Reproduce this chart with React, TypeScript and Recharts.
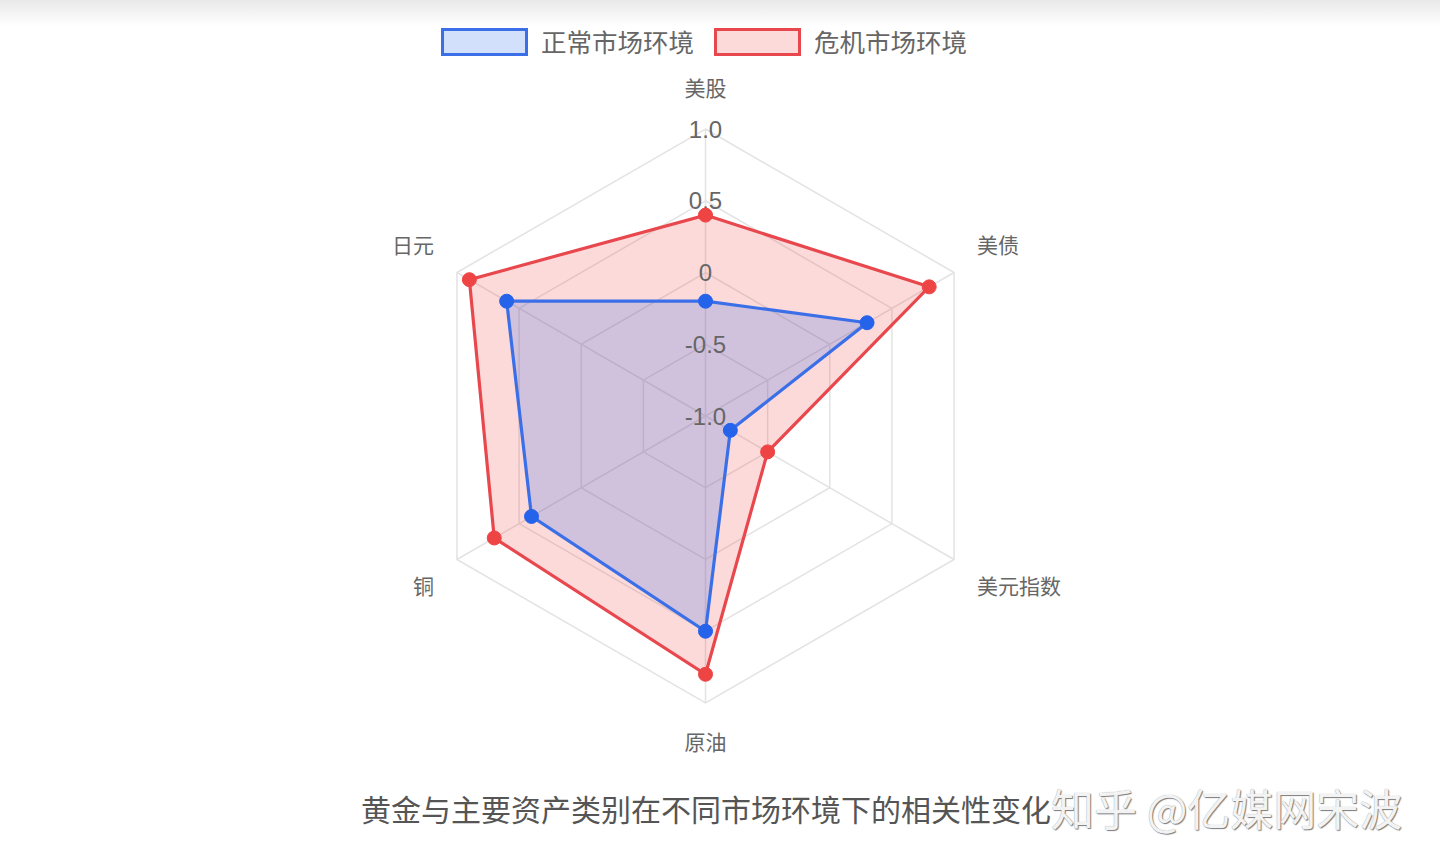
import React from 'react';
import { RadarChart, Radar, PolarGrid, PolarAngleAxis, PolarRadiusAxis } from 'recharts';

const categories = ['美股', '美债', '美元指数', '原油', '铜', '日元'];
const normalValues = [-0.2, 0.3, -0.8, 0.5, 0.4, 0.6];
const crisisValues = [0.4, 0.8, -0.5, 0.8, 0.7, 0.9];
const radiusTicks = [-1, -0.5, 0, 0.5, 1];
const radiusTickLabels = ['-1.0', '-0.5', '0', '0.5', '1.0'];
const seriesNames = ['正常市场环境', '危机市场环境'];
const titleText = '黄金与主要资产类别在不同市场环境下的相关性变化';
const watermarkText = '知乎 @亿媒网宋波';

const data = categories.map((c, i) => ({
  asset: c,
  [seriesNames[0]]: normalValues[i],
  [seriesNames[1]]: crisisValues[i],
}));

const CX = 705.5;
const CY = 416;
const R = 287;
const CJK = '"Noto Sans CJK SC", "Noto Sans", sans-serif';
const LATIN = '"Liberation Sans", Arial, "Noto Sans CJK SC", sans-serif';

const BLUE_LINE = '#3b6fe8';
const BLUE_DOT = '#2563eb';
const BLUE_FILL = 'rgba(37,99,235,0.2)';
const RED_LINE = '#e8484d';
const RED_DOT = '#ef4444';
const RED_FILL = 'rgba(239,68,68,0.2)';

const AngleTick = (props: any) => {
  const { payload } = props;
  const ang = (payload.coordinate * Math.PI) / 180;
  const cos = Math.cos(ang);
  const sin = Math.sin(ang);
  const vx = CX + R * cos;
  const vy = CY - R * sin;
  let x = vx;
  let y = vy;
  let anchor: 'start' | 'middle' | 'end' = 'middle';
  if (Math.abs(cos) < 0.01) {
    y = vy - Math.sign(sin) * 40;
  } else {
    anchor = cos > 0 ? 'start' : 'end';
    x = vx + Math.sign(cos) * 23;
    y = vy - Math.sign(sin) * 27;
  }
  return (
    <text x={x} y={y - 2} textAnchor={anchor} dominantBaseline="central" fill="#666" fontSize={21} fontFamily={CJK}>
      {payload.value}
    </text>
  );
};

const RadiusTick = (props: any) => {
  const { y, payload } = props;
  const idx = radiusTicks.indexOf(payload.value);
  const label = idx >= 0 ? radiusTickLabels[idx] : String(payload.value);
  return (
    <text x={CX} y={y} textAnchor="middle" dominantBaseline="central" fill="#666" fontSize={24} fontFamily={LATIN}>
      {label}
    </text>
  );
};

const LegendItem = ({ left, line, fill, label }: any) => (
  <div style={{ position: 'absolute', left, top: 28, height: 28, display: 'flex', alignItems: 'center' }}>
    <div style={{ width: 81, height: 22, border: `3px solid ${line}`, background: fill }} />
    <span style={{ marginLeft: 13, fontSize: 25.5, color: '#666', fontFamily: CJK, lineHeight: '28px', position: 'relative', top: -1 }}>{label}</span>
  </div>
);

export default function App() {
  return (
    <div style={{ position: 'absolute', left: 0, top: 0, width: 1440, height: 868, background: '#fff', overflow: 'hidden' }}>
      <div style={{ position: 'absolute', left: 0, top: 0, width: 1440, height: 26, background: 'linear-gradient(#e9e9e9, #ffffff)' }} />
      <div style={{ position: 'absolute', left: 0, top: 0 }}>
        <RadarChart width={1440} height={868} data={data} cx={CX} cy={CY} outerRadius={R} innerRadius={0} margin={{ top: 0, right: 0, bottom: 0, left: 0 }}>
          <PolarGrid gridType="polygon" stroke="#e3e3e3" strokeWidth={1.5} />
          <PolarAngleAxis dataKey="asset" tick={<AngleTick />} axisLine={false} tickLine={false} />
          <PolarRadiusAxis
            angle={90}
            domain={[-1, 1]}
            ticks={radiusTicks as any}
            tickCount={5}
            axisLine={false}
            tickLine={false}
            tick={<RadiusTick />}
            allowDataOverflow
          />
          <Radar
            name={seriesNames[1]}
            dataKey={seriesNames[1]}
            stroke={RED_LINE}
            strokeWidth={3.2}
            fill={RED_FILL}
            fillOpacity={1}
            dot={{ r: 7, fill: RED_DOT, stroke: RED_DOT, strokeWidth: 1, fillOpacity: 1 }}
            isAnimationActive={false}
          />
          <Radar
            name={seriesNames[0]}
            dataKey={seriesNames[0]}
            stroke={BLUE_LINE}
            strokeWidth={3.2}
            fill={BLUE_FILL}
            fillOpacity={1}
            dot={{ r: 7, fill: BLUE_DOT, stroke: BLUE_DOT, strokeWidth: 1, fillOpacity: 1 }}
            isAnimationActive={false}
          />
        </RadarChart>
      </div>
      <LegendItem left={441} line={BLUE_LINE} fill="rgba(37,99,235,0.2)" label={seriesNames[0]} />
      <LegendItem left={714} line={RED_LINE} fill="rgba(239,68,68,0.2)" label={seriesNames[1]} />
      <div style={{ position: 'absolute', left: 361, top: 792, fontSize: 30, lineHeight: '32px', color: '#555', fontFamily: CJK, whiteSpace: 'nowrap' }}>
        {titleText}
      </div>
      <div
        style={{
          position: 'absolute',
          left: 1051,
          top: 783,
          fontSize: 43,
          lineHeight: '48px',
          color: '#f3f3f3',
          fontFamily: CJK,
          whiteSpace: 'nowrap',
          textShadow: '1px 1px 1px #7a7a7a, 0 0 1px #999',
        }}
      >
        {watermarkText}
      </div>
    </div>
  );
}
